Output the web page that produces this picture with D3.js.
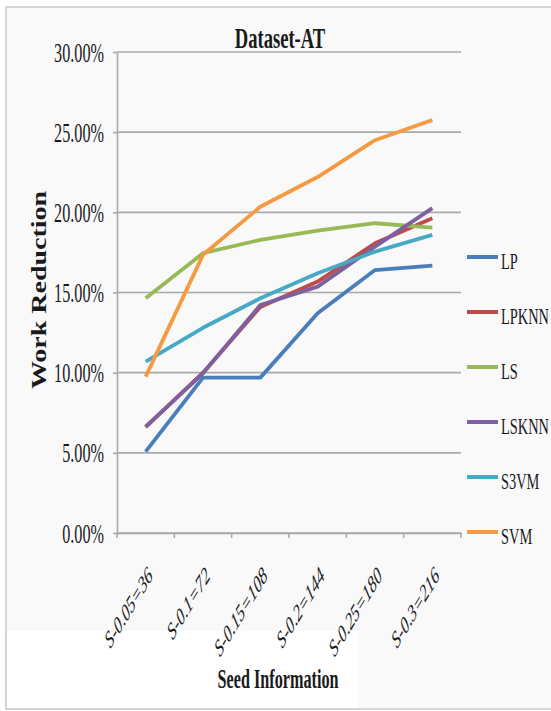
<!DOCTYPE html>
<html>
<head>
<meta charset="utf-8">
<script src="https://cdn.jsdelivr.net/npm/d3@7"></script>
<style>
  body { margin: 0; background: #fff; }
  text { font-family: "Liberation Serif", serif; fill: #1a1a1a; }
</style>
</head>
<body>
<div class="chart"></div>
<script>
// 資料
const categories = ["S-0.05=36", "S-0.1=72", "S-0.15=108", "S-0.2=144", "S-0.25=180", "S-0.3=216"];
const seriesNames = ["LP", "LPKNN", "LS", "LSKNN", "S3VM", "SVM"];
const seriesColors = ["#4a7ebb", "#be4b48", "#98b954", "#7d60a0", "#46aac5", "#f59a43"];
const lpValues = [5.07, 9.69, 9.69, 13.7, 16.4, 16.68];
const lpknnValues = [6.6, 10.0, 14.1, 15.68, 18.07, 19.63];
const lsValues = [14.64, 17.45, 18.28, 18.86, 19.32, 19.05];
const lsknnValues = [6.63, 9.96, 14.22, 15.37, 17.86, 20.26];
const s3vmValues = [10.69, 12.8, 14.64, 16.2, 17.55, 18.59];
const svmValues = [9.75, 17.35, 20.35, 22.2, 24.5, 25.76];
const yTicks = [0, 5, 10, 15, 20, 25, 30];

const seriesValues = [lpValues, lpknnValues, lsValues, lsknnValues, s3vmValues, svmValues];
const series = seriesNames.map((name, i) => ({ name: name, color: seriesColors[i], values: seriesValues[i] }));

const W = 551, H = 711;
const squeeze = 0.6; // 原圖文字被水平壓扁

const svg = d3.select('.chart').append('svg')
              .attr('width', W)
              .attr('height', H);

// 背景和外框
svg.append('rect').attr('x', 6).attr('y', 7)
                  .attr('width', 600).attr('height', 702)
                  .attr('fill', '#f9f9fa')
                  .attr('stroke', '#c9c9c9')
                  .attr('stroke-width', 1.5);
svg.append('rect').attr('x', 7).attr('y', 631)
                  .attr('width', 351).attr('height', 77)
                  .attr('fill', '#ffffff');

const x = d3.scaleBand().domain(categories).range([117, 461]);
const y = d3.scaleLinear().domain([0, 30]).range([533, 52]);

// 格線
svg.append('g').selectAll('line')
   .data(yTicks).enter().append('line')
   .attr('x1', 117).attr('x2', 461)
   .attr('y1', d => y(d)).attr('y2', d => y(d))
   .attr('stroke', '#a9a9a9')
   .attr('stroke-width', 1.6);

// y 軸
const yAxis = svg.append('g')
                 .attr('transform', 'translate(117,0)')
                 .call(d3.axisLeft(y).tickValues(yTicks).tickSize(4).tickSizeOuter(0)
                         .tickFormat(d => d.toFixed(2) + '%'));
yAxis.select('.domain').attr('stroke', '#a9a9a9').attr('stroke-width', 1.6);
yAxis.selectAll('.tick line').attr('stroke', '#a9a9a9').attr('stroke-width', 1.6);
yAxis.selectAll('.tick text')
     .attr('x', 0).attr('dy', 0)
     .attr('transform', `translate(-13,9) scale(${squeeze},1)`)
     .attr('text-anchor', 'end')
     .attr('font-size', 27)
     .attr('font-family', '"Liberation Serif", serif')
     .attr('fill', '#222');

// x 軸
const xAxis = svg.append('g')
                 .attr('transform', 'translate(0,533)')
                 .call(d3.axisBottom(x).tickSize(0).tickSizeOuter(0));
xAxis.select('.domain').attr('stroke', '#a9a9a9').attr('stroke-width', 1.6);
xAxis.selectAll('.tick text')
     .attr('x', 0).attr('y', 0).attr('dy', 0)
     .attr('transform', `translate(8,44) scale(${squeeze},1) rotate(-45)`)
     .attr('text-anchor', 'end')
     .attr('font-size', 24)
     .attr('font-style', 'italic')
     .attr('font-family', '"Liberation Serif", serif')
     .attr('fill', '#222');
// 類別邊界的刻度
xAxis.append('g').selectAll('line')
     .data(categories.map(c => x(c)).concat([x.range()[1]]))
     .enter().append('line')
     .attr('x1', d => d).attr('x2', d => d)
     .attr('y1', 0).attr('y2', 5)
     .attr('stroke', '#a9a9a9')
     .attr('stroke-width', 1.6);

// 折線
const line = d3.line()
               .x((d, i) => x(categories[i]) + x.bandwidth() / 2)
               .y(d => y(d));
svg.append('g').selectAll('path')
   .data(series).enter().append('path')
   .attr('d', d => line(d.values))
   .attr('fill', 'none')
   .attr('stroke', d => d.color)
   .attr('stroke-width', 3.8)
   .attr('stroke-linejoin', 'round');

// 圖例
const legend = svg.append('g').selectAll('g')
                  .data(series).enter().append('g')
                  .attr('transform', (d, i) => `translate(467,${257 + i * 55})`);
legend.append('line')
      .attr('x1', 0).attr('x2', 31)
      .attr('y1', 0).attr('y2', 0)
      .attr('stroke', d => d.color)
      .attr('stroke-width', 4);
legend.append('text').text(d => d.name)
      .attr('transform', `translate(34,12) scale(${squeeze},1)`)
      .attr('font-size', 24);

// 標題
svg.append('text').text('Dataset-AT')
   .attr('transform', `translate(280,48) scale(0.62,1)`)
   .attr('text-anchor', 'middle')
   .attr('font-size', 30)
   .attr('font-weight', 'bold');

svg.append('text').text('Seed Information')
   .attr('transform', `translate(278,688) scale(${squeeze},1)`)
   .attr('text-anchor', 'middle')
   .attr('font-size', 27)
   .attr('font-weight', 'bold');

svg.append('text').text('Work Reduction')
   .attr('transform', 'translate(46,290) scale(0.72,1) rotate(-90)')
   .attr('text-anchor', 'middle')
   .attr('font-size', 28)
   .attr('font-weight', 'bold');
</script>
</body>
</html>
